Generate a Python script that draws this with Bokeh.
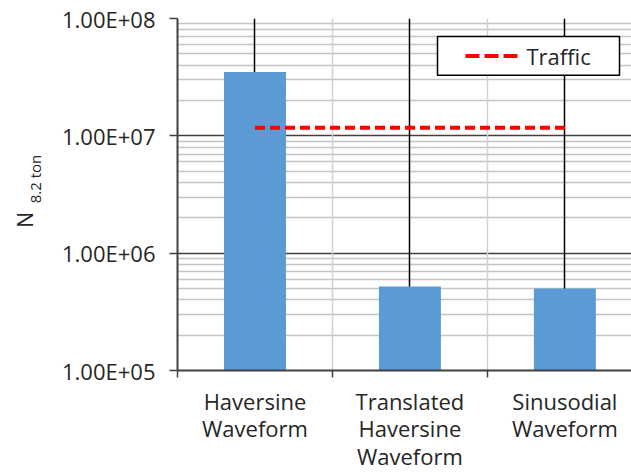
import math

from bokeh.plotting import figure
from bokeh.layouts import row
from bokeh.models import FixedTicker, Label, Range1d
from bokeh.core.properties import value
from bokeh.embed import file_html
from bokeh.resources import INLINE

# ---- data -------------------------------------------------------------
categories = ["Haversine\nWaveform",
              "Translated\nHaversine\nWaveform",
              "Sinusodial\nWaveform"]
n_cycles = [3.5e7, 5.2e5, 5.0e5]          # N 8.2 ton per waveform
traffic_n = 1.17e7                         # design traffic
y_ticks = [1e5, 1e6, 1e7, 1e8]
y_tick_labels = ["1.00E+05", "1.00E+06", "1.00E+07", "1.00E+08"]

# ---- layout -----------------------------------------------------------
W, H = 631, 473
TITLE_W = 50                      # strip holding the rotated y title
LEFT, TOP, BOTTOM = 177, 18, 102  # plot frame edges on the page
FONT = "Open Sans"
TEXT = "#262626"
BAR = "#5B9BD5"
RED = "#FF0000"

positions = list(range(1, len(categories) + 1))
x_start, x_end = 0.5, 3.43
y_lo, y_hi = y_ticks[0], y_ticks[-1]

frame_w = W - LEFT
frame_h = H - TOP - BOTTOM


def data_x(sx):
    """Page pixel column -> data x."""
    return x_start + (sx - LEFT) / frame_w * (x_end - x_start)


def data_y(sy):
    """Page pixel row -> data y on the log axis."""
    lo, hi = math.log10(y_lo), math.log10(y_hi)
    return 10 ** (hi - (sy - TOP) / frame_h * (hi - lo))


y_range = Range1d(y_lo, y_hi)

# ---- y title strip: "N" with subscript "8.2 ton" -----------------------
t = figure(width=TITLE_W, height=H,
           x_range=Range1d(0, TITLE_W), y_range=y_range,
           y_axis_type="log",
           x_axis_location=None, y_axis_location=None,
           output_backend="svg", toolbar_location=None,
           min_border=0, min_border_top=TOP, min_border_bottom=BOTTOM)
t.outline_line_color = None
t.grid.visible = False
t.text(x=[24], y=[data_y(220)], text=["N"], angle=math.pi / 2,
       text_align="center", text_baseline="middle",
       text_font=value(FONT), text_font_size="21px", text_color=TEXT)
t.text(x=[34], y=[data_y(179)], text=["8.2 ton"], angle=math.pi / 2,
       text_align="center", text_baseline="middle",
       text_font=value(FONT), text_font_size="15px", text_color=TEXT)

# ---- main chart --------------------------------------------------------
p = figure(width=W - TITLE_W, height=H,
           x_range=Range1d(x_start, x_end),
           y_range=y_range,
           y_axis_type="log",
           output_backend="svg", toolbar_location=None,
           min_border_left=LEFT - TITLE_W, min_border_right=0,
           min_border_top=TOP, min_border_bottom=BOTTOM)
p.outline_line_color = None
p.background_fill_color = "white"
p.border_fill_color = "white"

# x axis: labels at category centres, ticks at category boundaries
p.xaxis.ticker = FixedTicker(
    ticks=positions,
    minor_ticks=[k + 0.5 for k in range(len(categories) + 1)])
p.xaxis.major_label_overrides = {pos: lab for pos, lab in zip(positions, categories)}
p.xaxis.major_tick_line_color = None
p.xaxis.major_tick_out = 0
p.xaxis.major_tick_in = 0
p.xaxis.minor_tick_out = 7
p.xaxis.minor_tick_in = 0
p.xaxis.minor_tick_line_color = "#404040"
p.xaxis.minor_tick_line_width = 1.5
p.xaxis.axis_line_color = "#404040"
p.xaxis.axis_line_width = 2
p.xaxis.major_label_text_font = FONT
p.xaxis.major_label_text_font_size = "22px"
p.xaxis.major_label_text_color = TEXT
p.xaxis.major_label_text_line_height = 0.92
p.xaxis.major_label_standoff = 8

p.xgrid.grid_line_color = "black"
p.xgrid.grid_line_width = 1.5
p.xgrid.minor_grid_line_color = "#d0d0d0"
p.xgrid.minor_grid_line_width = 1.5

# y axis (log)
p.yaxis.ticker = FixedTicker(
    ticks=y_ticks,
    minor_ticks=[k * 10 ** d for d in range(5, 8) for k in range(2, 10)])
p.yaxis.major_label_overrides = dict(zip(y_ticks, y_tick_labels))
p.yaxis.major_tick_out = 8
p.yaxis.major_tick_in = 0
p.yaxis.major_tick_line_color = "#404040"
p.yaxis.major_tick_line_width = 1.5
p.yaxis.minor_tick_line_color = None
p.yaxis.axis_line_color = "#404040"
p.yaxis.axis_line_width = 2
p.yaxis.major_label_text_font = FONT
p.yaxis.major_label_text_font_size = "22px"
p.yaxis.major_label_text_color = TEXT
p.yaxis.major_label_standoff = 14

p.ygrid.grid_line_color = "#404040"
p.ygrid.grid_line_width = 1.5
p.ygrid.minor_grid_line_color = "#c4c4c4"
p.ygrid.minor_grid_line_width = 1.5

# draw horizontal grid first so the vertical lines sit on top of it
grids = list(p.center)
p.center = [g for g in grids if getattr(g, "dimension", None) == 1] + \
           [g for g in grids if getattr(g, "dimension", None) != 1]

# bars and traffic level
p.vbar(x=positions, top=n_cycles, bottom=y_lo, width=0.4,
       fill_color=BAR, line_color=None)
p.line(x=[positions[0], positions[-1]], y=[traffic_n, traffic_n],
       line_color=RED, line_width=4, line_dash="10 5")

# legend box
p.quad(left=data_x(437), right=data_x(619), top=data_y(36), bottom=data_y(75),
       fill_color="white", line_color="black", line_width=1.5)
p.line(x=[data_x(465), data_x(517)], y=[data_y(55.5)] * 2,
       line_color=RED, line_width=4, line_dash="14 5")
p.add_layout(Label(x=data_x(526), y=data_y(55.5), text="Traffic",
                   text_baseline="middle", text_align="left",
                   text_font=FONT, text_font_size="22px", text_color=TEXT))

layout = row(t, p, spacing=0)
open("out.html", "w").write(file_html(layout, INLINE))
